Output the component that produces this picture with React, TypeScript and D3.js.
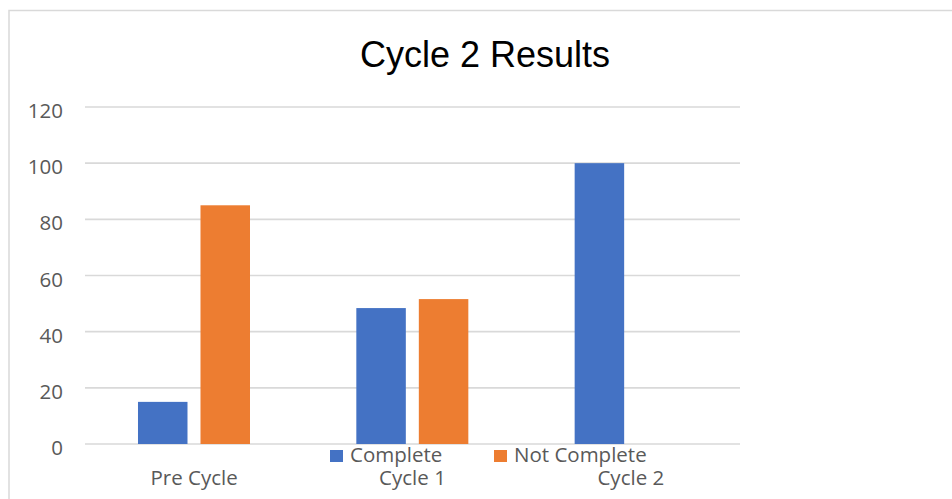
import React from 'react'
import * as d3 from 'd3'

const categories = ['Pre Cycle', 'Cycle 1', 'Cycle 2']
const seriesNames = ['Complete', 'Not Complete']
const complete = [15, 48.4, 100]
const notComplete = [85, 51.6, 0]
const yTicks = [0, 20, 40, 60, 80, 100, 120]
const colors = ['#4472c4', '#ed7d31']

const W = 952
const H = 499
const labelFont = '"Open Sans", sans-serif'

export default function App() {
  const values = [complete, notComplete]

  const x0 = d3.scaleBand().domain(categories).range([85, 740]).padding(0)
  const bw = x0.bandwidth()
  const x1 = d3
    .scaleBand()
    .domain(seriesNames)
    .range([bw * 0.2427, bw * 0.7557])
    .paddingInner(0.208)
    .paddingOuter(0)
  const y = d3.scaleLinear().domain([0, 120]).range([444, 107])

  return (
    <svg
      width={W}
      height={H}
      style={{position: 'absolute', left: 0, top: 0, background: '#fff'}}
    >
      {/* chart frame, runs off the right and bottom edges */}
      <rect x={9} y={10.5} width={1100} height={700} fill="#fff" stroke="#d9d9d9" strokeWidth={1.5} />

      <text
        x={485}
        y={67}
        textAnchor="middle"
        fontFamily='"Liberation Sans", Arial, sans-serif'
        fontSize={36}
        fill="#000"
      >
        Cycle 2 Results
      </text>

      {yTicks.map(t => (
        <g key={t}>
          <line x1={85} x2={740} y1={y(t)} y2={y(t)} stroke="#d9d9d9" strokeWidth={1.6} />
          <text
            x={63}
            y={y(t) + 11}
            textAnchor="end"
            fontFamily={labelFont}
            fontSize={20.5}
            fill="#595959"
          >
            {t}
          </text>
        </g>
      ))}

      {categories.map((c, i) => (
        <g key={c} transform={`translate(${x0(c)},0)`}>
          {seriesNames.map((s, j) =>
            values[j][i] > 0 ? (
              <rect
                key={s}
                x={x1(s)}
                y={y(values[j][i])}
                width={x1.bandwidth()}
                height={y(0) - y(values[j][i])}
                fill={colors[j]}
              />
            ) : null
          )}
          <text
            x={bw / 2}
            y={485}
            textAnchor="middle"
            fontFamily={labelFont}
            fontSize={20.5}
            fill="#595959"
          >
            {c}
          </text>
        </g>
      ))}

      {/* legend */}
      {seriesNames.map((s, j) => (
        <g key={s} transform={`translate(${j === 0 ? 330 : 494},450)`}>
          <rect width={13} height={12} fill={colors[j]} />
          <text x={20} y={12} fontFamily={labelFont} fontSize={20.5} fill="#595959">
            {s}
          </text>
        </g>
      ))}
    </svg>
  )
}
